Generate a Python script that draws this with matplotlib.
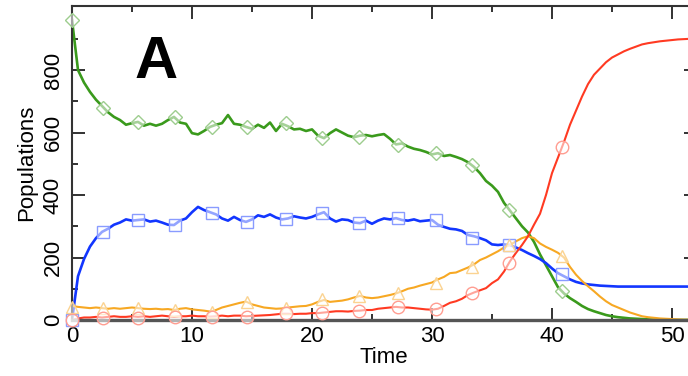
#!/usr/bin/env python3

import numpy as np
import matplotlib
matplotlib.use("Agg")
import matplotlib.pyplot as plt
from matplotlib.colors import to_rgb


# time grid, one value every half time unit (0 .. 52)
TIME = np.arange(0, 52.5, 0.5)

GREEN = [
    960, 800, 760, 730, 705, 685, 665, 650, 640, 625,
    630, 634, 622, 628, 622, 628, 640, 650, 632, 628,
    598, 594, 605, 618, 625, 630, 656, 628, 625, 618,
    612, 625, 615, 632, 605, 628, 620, 610, 612, 605,
    610, 590, 582, 598, 610, 600, 590, 585, 590, 592,
    588, 592, 595, 580, 562, 565, 555, 548, 544, 538,
    530, 534, 525, 528, 522, 515, 505, 490, 470, 445,
    430, 410, 375, 350, 325, 300, 280, 250, 210, 175,
    140, 105, 85, 70, 58, 45, 35, 28, 22, 16,
    12, 9, 7, 5, 4, 3, 2, 1, 1, 1,
    0, 0, 0, 0, 0,
]

BLUE = [
    0, 140, 195, 235, 262, 282, 292, 305, 312, 322,
    318, 320, 322, 315, 318, 312, 305, 304, 318, 325,
    345, 362, 352, 345, 338, 325, 318, 330, 320, 314,
    322, 335, 330, 338, 328, 322, 325, 332, 328, 325,
    330, 338, 345, 325, 315, 322, 320, 312, 310, 318,
    308, 318, 325, 322, 326, 320, 318, 322, 316, 318,
    320, 305, 298, 292, 290, 285, 272, 268, 262, 255,
    242, 240, 242, 240, 232, 224, 214, 205, 195, 182,
    165, 150, 140, 130, 122, 117, 114, 112, 110, 109,
    108, 107, 107, 107, 107, 107, 107, 107, 107, 107,
    107, 107, 107, 107, 107,
]

ORANGE = [
    45, 42, 40, 38, 40, 38, 36, 38, 36, 38,
    40, 38, 36, 35, 36, 34, 35, 32, 36, 38,
    34, 32, 30, 27, 32, 40, 45, 50, 55, 59,
    50, 45, 40, 38, 36, 37, 40, 42, 44, 45,
    50, 58, 64, 58, 60, 62, 66, 72, 77, 72,
    70, 72, 76, 80, 85, 92, 100, 104, 110, 115,
    120, 130, 138, 150, 152, 160, 168, 178, 192, 200,
    210, 220, 232, 240, 252, 262, 268, 262, 245, 234,
    225, 215, 200, 170, 145, 125, 108, 92, 75, 60,
    48, 40, 32, 24, 18, 12, 9, 7, 5, 4,
    3, 2, 1, 1, 1,
]

RED = [
    0, 5, 8, 8, 10, 8, 10, 12, 10, 10,
    12, 10, 12, 10, 12, 14, 12, 10, 12, 12,
    14, 12, 12, 11, 12, 14, 12, 14, 14, 12,
    13, 14, 15, 16, 18, 20, 20, 19, 20, 20,
    22, 22, 24, 26, 28, 28, 27, 29, 30, 32,
    32, 36, 38, 40, 42, 40, 40, 38, 36, 34,
    33, 36, 45, 55, 60, 68, 80, 88, 95, 102,
    118, 130, 155, 188, 215, 240, 268, 305, 340, 400,
    470, 520, 570, 625, 670, 715, 755, 785, 805, 825,
    840, 850, 860, 868, 875, 882, 886, 889, 892, 894,
    896, 898, 899, 900, 900,
]

# open symbols drawn every few events
MARK_T = [0, 2.6, 5.5, 8.6, 11.7, 14.6, 17.8, 20.8, 23.9, 27.2, 30.3, 33.3, 36.4, 40.8]
GREEN_MARK = [960, 678, 634, 650, 618, 618, 630, 582, 586, 560, 534, 496, 352, 93]
BLUE_MARK = [0, 282, 320, 304, 342, 314, 323, 342, 310, 326, 320, 262, 240, 147]
ORANGE_MARK = [42, 38, 38, 32, 27, 59, 37, 66, 77, 85, 120, 170, 240, 205]
RED_MARK = [0, 6, 8, 10, 11, 11, 21, 21, 29, 43, 36, 86, 182, 554]

X_TICKS = [0, 10, 20, 30, 40, 50]
Y_TICKS = [0, 200, 400, 600, 800]


def light(color, amount=0.5):
    r, g, b = to_rgb(color)
    return (r + (1 - r) * amount, g + (1 - g) * amount, b + (1 - b) * amount)


def main():
    plt.rcParams["font.family"] = ["Liberation Sans", "DejaVu Sans"]

    fig = plt.figure(figsize=(6.88, 3.76), dpi=100)
    W, H = 688.0, 376.0
    left, right, top, bottom = 72, 696, 6, 320
    ax = fig.add_axes([left / W, 1 - bottom / H, (right - left) / W, (bottom - top) / H])

    series = [
        (GREEN, GREEN_MARK, "#3a9a1c", "D", 7.5),
        (BLUE, BLUE_MARK, "#1236ff", "s", 8.5),
        (ORANGE, ORANGE_MARK, "#f7a823", "^", 9),
        (RED, RED_MARK, "#ff3a22", "o", 9),
    ]

    for values, _, color, _, _ in series:
        assert len(values) == len(TIME)
        lw = 1.9 if color in ("#3a9a1c", "#1236ff") else 1.5
        ax.plot(TIME, values, color=color, lw=lw, zorder=2)

    for _, marks, color, marker, size in series:
        ax.plot(
            MARK_T, marks, linestyle="none", marker=marker, markersize=size,
            markerfacecolor=(1, 1, 1, 0.55), markeredgecolor=light(color),
            markeredgewidth=1.0, zorder=3, clip_on=False,
        )

    ax.set_xlim(0, 52)
    ax.set_ylim(0, 1005)
    ax.set_xticks(X_TICKS)
    ax.set_xticks(np.arange(5, 52, 10), minor=True)
    ax.set_yticks(Y_TICKS)
    ax.set_yticks(np.arange(100, 1000, 200), minor=True)

    ax.tick_params(which="both", direction="in", top=True, right=True,
                   width=1.3, labelsize=16, color="#222222")
    ax.tick_params(which="major", length=9, pad=4)
    ax.tick_params(which="minor", length=4.5)
    ax.tick_params(axis="y", which="major", pad=6)
    for lbl in ax.get_yticklabels():
        lbl.set_rotation(90)
        lbl.set_va("center")

    for side in ("left", "top", "right"):
        ax.spines[side].set_linewidth(1.5)
        ax.spines[side].set_color("#333333")
    ax.spines["bottom"].set_linewidth(2.4)
    ax.spines["bottom"].set_color("#555555")

    ax.set_xlabel("Time", fontsize=16, labelpad=0)
    ax.set_ylabel("Populations", fontsize=16, labelpad=4)

    ax.text(0.134, 0.77, "A", transform=ax.transAxes, fontsize=43,
            fontweight="bold", ha="center", va="baseline")

    fig.savefig("out.png", dpi=100)


if __name__ == "__main__":
    main()
